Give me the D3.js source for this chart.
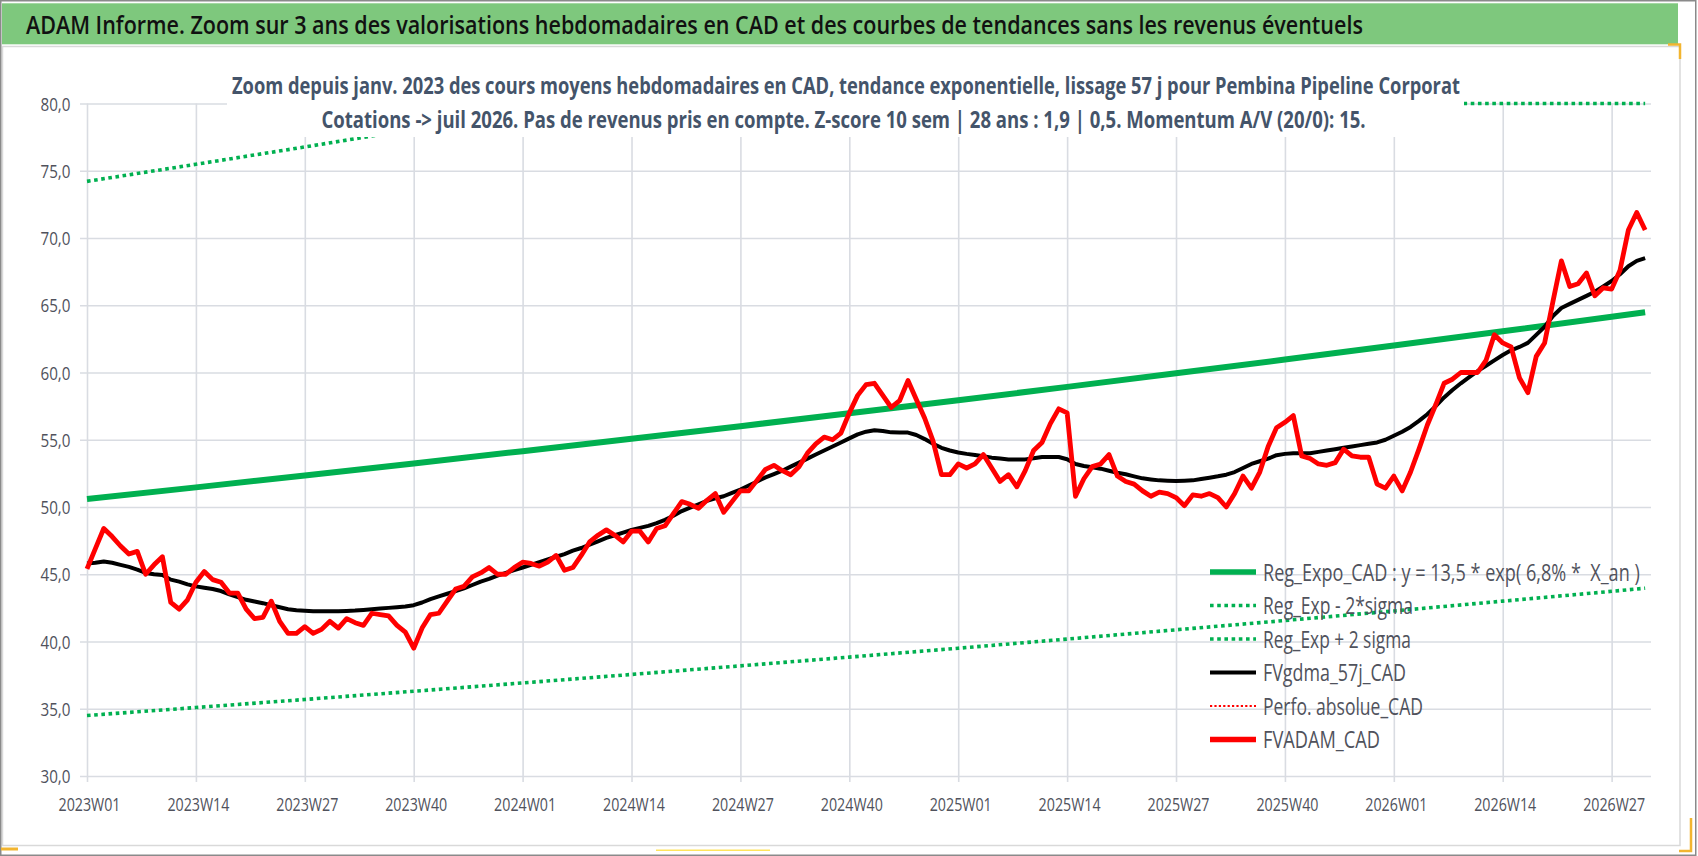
<!DOCTYPE html>
<html>
<head>
<meta charset="utf-8">
<script src="https://cdn.jsdelivr.net/npm/d3@7"></script>
<style>
	html, body { margin: 0; padding: 0; background: #fff; }
	svg { display: block; }
	text { font-family: "Open Sans", "Noto Sans", sans-serif; white-space: pre; }
</style>
</head>
<body>
<svg id="chart" width="1698" height="856"></svg>
<script>

///////////////////////////////////////////////////////////////////////
// data (weekly, index 0 = 2023W01)

const title = "ADAM Informe. Zoom sur 3 ans des valorisations hebdomadaires en CAD et des courbes de tendances sans les revenus éventuels";
const subtitle = [
	"Zoom depuis janv. 2023 des cours moyens hebdomadaires en CAD, tendance exponentielle, lissage 57 j pour Pembina Pipeline Corporat",
	"Cotations -> juil 2026. Pas de revenus pris en compte. Z-score 10 sem | 28 ans : 1,9 | 0,5. Momentum A/V (20/0): 15."
];

const xTickLabels = [ "2023W01", "2023W14", "2023W27", "2023W40", "2024W01", "2024W14", "2024W27", "2024W40",
	"2025W01", "2025W14", "2025W27", "2025W40", "2026W01", "2026W14", "2026W27" ];
const yTicks = [ 30, 35, 40, 45, 50, 55, 60, 65, 70, 75, 80 ];

const legendLabels = [ "Reg_Expo_CAD : y = 13,5 * exp( 6,8% *  X_an )", "Reg_Exp - 2*sigma", "Reg_Exp + 2 sigma",
	"FVgdma_57j_CAD", "Perfo. absolue_CAD", "FVADAM_CAD" ];

// FVADAM_CAD
const fvadam = [
	45.4, 46.9, 48.4, 47.8, 47.1, 46.5, 46.7, 45.0, 45.7, 46.3,
	42.9, 42.4, 43.1, 44.4, 45.2, 44.6, 44.4, 43.6, 43.6, 42.4,
	41.7, 41.8, 43.0, 41.5, 40.6, 40.6, 41.1, 40.6, 40.9, 41.5,
	41.0, 41.7, 41.4, 41.2, 42.1, 42.0, 41.9, 41.2, 40.7, 39.5,
	41.0, 42.0, 42.1, 43.0, 43.9, 44.1, 44.8, 45.1, 45.5, 45.0,
	45.0, 45.5, 45.9, 45.8, 45.6, 45.9, 46.4, 45.3, 45.5, 46.4,
	47.4, 47.9, 48.3, 47.9, 47.4, 48.2, 48.2, 47.4, 48.4, 48.6,
	49.5, 50.4, 50.2, 49.9, 50.5, 51.0, 49.6, 50.4, 51.2, 51.2,
	52.0, 52.8, 53.1, 52.7, 52.4, 53.0, 54.0, 54.7, 55.2, 55.0,
	55.5, 57.0, 58.3, 59.1, 59.2, 58.3, 57.4, 57.9, 59.4, 58.0,
	56.6, 54.9, 52.4, 52.4, 53.2, 52.9, 53.2, 53.9, 52.9, 51.9,
	52.4, 51.5, 52.7, 54.2, 54.8, 56.2, 57.3, 57.0, 50.8, 52.1,
	53.0, 53.2, 53.9, 52.3, 51.9, 51.7, 51.2, 50.8, 51.1, 51.0,
	50.7, 50.1, 50.9, 50.8, 51.0, 50.7, 50.0, 51.0, 52.3, 51.4,
	52.6, 54.5, 55.9, 56.3, 56.8, 53.8, 53.6, 53.2, 53.1, 53.3,
	54.3, 53.8, 53.7, 53.7, 51.7, 51.4, 52.3, 51.2, 52.6, 54.3,
	56.1, 57.6, 59.2, 59.5, 60.0, 60.0, 60.0, 60.9, 62.8, 62.2,
	61.9, 59.6, 58.5, 61.2, 62.2, 65.3, 68.3, 66.4, 66.6, 67.4,
	65.7, 66.3, 66.2, 67.6, 70.6, 71.9, 70.6
];

// FVgdma_57j_CAD
const fvgdma = [
	45.80, 45.85, 45.95, 45.85, 45.70, 45.55, 45.35, 45.10, 45.00, 44.95,
	44.60, 44.45, 44.25, 44.10, 44.00, 43.90, 43.75, 43.50, 43.30, 43.10,
	42.97, 42.85, 42.70, 42.55, 42.40, 42.32, 42.28, 42.25, 42.25, 42.25,
	42.25, 42.27, 42.30, 42.35, 42.40, 42.45, 42.50, 42.55, 42.60, 42.70,
	42.90, 43.15, 43.35, 43.55, 43.75, 43.95, 44.20, 44.45, 44.65, 44.90,
	45.10, 45.30, 45.50, 45.70, 45.90, 46.10, 46.30, 46.50, 46.75, 46.95,
	47.20, 47.45, 47.70, 47.90, 48.10, 48.30, 48.45, 48.60, 48.80, 49.05,
	49.35, 49.70, 49.95, 50.20, 50.45, 50.65, 50.80, 51.05, 51.30, 51.60,
	51.90, 52.20, 52.45, 52.70, 53.00, 53.30, 53.60, 53.90, 54.20, 54.50,
	54.80, 55.10, 55.40, 55.60, 55.70, 55.65, 55.55, 55.53, 55.53, 55.35,
	55.05, 54.70, 54.40, 54.20, 54.05, 53.95, 53.87, 53.77, 53.67, 53.60,
	53.54, 53.54, 53.54, 53.62, 53.72, 53.72, 53.72, 53.55, 53.20, 53.05,
	52.95, 52.85, 52.70, 52.55, 52.43, 52.28, 52.13, 52.05, 51.98, 51.95,
	51.93, 51.95, 51.98, 52.08, 52.18, 52.28, 52.40, 52.60, 52.90, 53.20,
	53.40, 53.60, 53.85, 53.95, 54.00, 54.00, 54.00, 54.10, 54.20, 54.30,
	54.40, 54.50, 54.60, 54.70, 54.80, 55.00, 55.30, 55.60, 55.95, 56.40,
	56.90, 57.50, 58.15, 58.70, 59.20, 59.65, 60.10, 60.50, 60.90, 61.30,
	61.65, 61.90, 62.20, 62.80, 63.40, 64.20, 64.80, 65.10, 65.40, 65.70,
	66.00, 66.40, 66.80, 67.30, 67.90, 68.30, 68.50
];

// trend lines, read at the labelled weeks and at the last week
const trendWeeks = [ 0, 13, 26, 39, 52, 65, 78, 91, 104, 117, 130, 143, 156, 169, 182, 186 ];
const regExpo = [ 50.60, 51.46, 52.34, 53.24, 54.15, 55.07, 56.01, 56.97, 57.94, 58.93, 59.94, 60.96, 62.00, 63.06, 64.14, 64.48 ];
const regLow  = [ 34.50, 35.09, 35.69, 36.30, 36.92, 37.55, 38.19, 38.84, 39.50, 40.18, 40.87, 41.56, 42.27, 43.00, 43.73, 43.96 ];
const regHigh = [ 74.21, 75.48, 76.77, 78.09, 79.42, 80.77, 82.15, 83.56, 84.98, 86.43, 87.91, 89.41, 90.94, 92.49, 94.07, 94.57 ];

///////////////////////////////////////////////////////////////////////

const W = 1698, H = 856;
const plotL = 87, plotR = 1651, plotT = 103.5, plotB = 776;
const gridColor = "#d9dce2";
const textColor = "#50525c";
const green = "#00b050";

const svg = d3.select( "#chart" );

const x = d3.scaleLinear().domain( [ 0, 186.7 ] ).range( [ plotL, plotR ] );
const y = d3.scaleLinear().domain( [ 30, 80 ] ).range( [ plotB, plotT ] );
const yClamp = y.copy().clamp( true );	// Excel draws out-of-range points on the border

const fmt = d3.formatLocale( { decimal: ",", thousands: " ", grouping: [ 3 ], currency: [ "", "" ] } ).format( ".1f" );

// squeeze a text horizontally to a given width (the source font is condensed)
function squeeze( node, px, py, width, anchor )	{
	let len = node.getComputedTextLength();
	let k = width / len;
	let dx = anchor === "middle" ? -width / 2 : 0;
	d3.select( node ).attr( "x", 0 ).attr( "y", 0 )
		.attr( "transform", "translate(" + ( px + dx ) + "," + py + ") scale(" + k + ",1)" );
}

// frames
svg.append( "rect" ).attr( "width", W ).attr( "height", H ).attr( "fill", "#fff" );
svg.append( "rect" )
	.attr( "x", 2.5 ).attr( "y", 46.5 ).attr( "width", 1677.5 ).attr( "height", 799 )
	.attr( "fill", "none" ).attr( "stroke", "#d9d9d9" ).attr( "stroke-width", 1.5 );
svg.append( "rect" )
	.attr( "x", 2 ).attr( "y", 3.3 ).attr( "width", 1676 ).attr( "height", 41 )
	.attr( "fill", "#7ec87d" );
svg.append( "rect" )
	.attr( "x", 0.75 ).attr( "y", 0.75 ).attr( "width", W - 3 ).attr( "height", H - 1.5 )
	.attr( "fill", "none" ).attr( "stroke", "#8a8a8a" ).attr( "stroke-width", 1.5 );

// selection handles seen on the picture
svg.append( "path" ).attr( "d", "M1668,44.5H1680V59" ).attr( "fill", "none" ).attr( "stroke", "#f2b530" ).attr( "stroke-width", 2.5 );
svg.append( "path" ).attr( "d", "M1691,818V851H1679" ).attr( "fill", "none" ).attr( "stroke", "#f2b530" ).attr( "stroke-width", 2.5 );
svg.append( "rect" ).attr( "x", 1 ).attr( "y", 847.5 ).attr( "width", 17 ).attr( "height", 3 ).attr( "fill", "#f2b530" );
svg.append( "rect" ).attr( "x", 656 ).attr( "y", 849.5 ).attr( "width", 114 ).attr( "height", 1.5 ).attr( "fill", "#ffe45c" );

// horizontal gridlines + y labels
const gy = svg.append( "g" )
	.attr( "transform", "translate(80,0)" )
	.call( d3.axisLeft( y ).tickValues( yTicks ).tickSize( -( plotR - 80 ) ).tickPadding( 9.5 ).tickFormat( fmt ) );
gy.select( ".domain" ).remove();
gy.selectAll( "line" ).attr( "stroke", gridColor ).attr( "stroke-width", 1.6 );
gy.selectAll( "text" )
	.attr( "fill", textColor ).attr( "font-size", 18.5 ).attr( "dy", "0.36em" )
	.attr( "textLength", 30 ).attr( "lengthAdjust", "spacingAndGlyphs" );

// vertical gridlines + x labels
const xTickIdx = xTickLabels.map( ( d, i ) => i * 13 );
const gx = svg.append( "g" )
	.attr( "transform", "translate(0," + ( plotB + 6 ) + ")" )
	.call( d3.axisBottom( x ).tickValues( xTickIdx ).tickSize( -( plotB + 6 - plotT ) ).tickPadding( 0 )
		.tickFormat( ( d, i ) => xTickLabels[ i ] ) );
gx.select( ".domain" ).remove();
gx.selectAll( "line" ).attr( "stroke", gridColor ).attr( "stroke-width", 1.6 );
gx.selectAll( "text" )
	.attr( "fill", textColor ).attr( "font-size", 18.5 ).attr( "y", 28.5 ).attr( "dy", 0 ).attr( "dx", 2 )
	.attr( "textLength", 62 ).attr( "lengthAdjust", "spacingAndGlyphs" );

// series
const weekLine = d3.line().x( ( d, i ) => x( i ) ).y( d => y( d ) );
const trendLine = ( scale ) => d3.line().x( ( d, i ) => x( trendWeeks[ i ] ) ).y( d => scale( d ) );

const dotted = "3.6 3.6";

svg.append( "path" ).datum( regExpo )
	.attr( "d", trendLine( y ) )
	.attr( "fill", "none" ).attr( "stroke", green ).attr( "stroke-width", 6 );

svg.append( "path" ).datum( regLow )
	.attr( "d", trendLine( y ) )
	.attr( "fill", "none" ).attr( "stroke", green ).attr( "stroke-width", 3.6 )
	.attr( "stroke-dasharray", dotted );

svg.append( "path" ).datum( regHigh )
	.attr( "d", trendLine( yClamp ) )
	.attr( "fill", "none" ).attr( "stroke", green ).attr( "stroke-width", 3.6 )
	.attr( "stroke-dasharray", dotted );

svg.append( "path" ).datum( fvgdma )
	.attr( "d", weekLine )
	.attr( "fill", "none" ).attr( "stroke", "#000" ).attr( "stroke-width", 4 )
	.attr( "stroke-linejoin", "round" );

svg.append( "path" ).datum( fvadam )
	.attr( "d", weekLine )
	.attr( "fill", "none" ).attr( "stroke", "#ff0000" ).attr( "stroke-width", 4.8 )
	.attr( "stroke-linejoin", "round" );

// chart title box over the plot (hides gridlines and the top dotted line)
svg.append( "rect" )
	.attr( "x", 227 ).attr( "y", 50 ).attr( "width", 1237 ).attr( "height", 87 )
	.attr( "fill", "#fff" );

const subW = [ 1229, 1045 ];
const subX = [ 846.5, 844 ];
const subY = [ 94, 127.5 ];
svg.selectAll( "text.sub" )
	.data( subtitle )
	.join( "text" )
		.attr( "class", "sub" )
		.attr( "font-size", 23 ).attr( "font-weight", "bold" ).attr( "fill", "#44546a" )
		.text( d => d )
		.each( function( d, i ) { squeeze( this, subX[ i ], subY[ i ], subW[ i ], "middle" ); } );

svg.append( "text" )
	.attr( "font-size", 25.5 ).attr( "font-weight", 600 ).attr( "fill", "#111" )
	.text( title )
	.each( function() { squeeze( this, 26, 34, 1338 ); } );

// legend
const legStyle = [
	{ color: green, width: 5.5, dash: null },
	{ color: green, width: 3.6, dash: dotted },
	{ color: green, width: 3.6, dash: dotted },
	{ color: "#000", width: 4, dash: null },
	{ color: "#ff0000", width: 2.2, dash: "2.2 2.2" },
	{ color: "#ff0000", width: 5.5, dash: null }
];
const legTextW = [ 377, 150, 148, 143, 160, 117 ];
const legY0 = 572, legStep = 33.5;

const leg = svg.append( "g" );
const items = leg.selectAll( "g" )
	.data( legendLabels )
	.join( "g" )
		.attr( "transform", ( d, i ) => "translate(0," + ( legY0 + i * legStep ) + ")" );
items.append( "line" )
	.attr( "x1", 1210 ).attr( "x2", 1256 )
	.attr( "stroke", ( d, i ) => legStyle[ i ].color )
	.attr( "stroke-width", ( d, i ) => legStyle[ i ].width )
	.attr( "stroke-dasharray", ( d, i ) => legStyle[ i ].dash );
items.append( "text" )
	.attr( "font-size", 23.5 ).attr( "fill", textColor )
	.text( d => d )
	.each( function( d, i ) { squeeze( this, 1263, 8.5, legTextW[ i ] ); } );

</script>
</body>
</html>
